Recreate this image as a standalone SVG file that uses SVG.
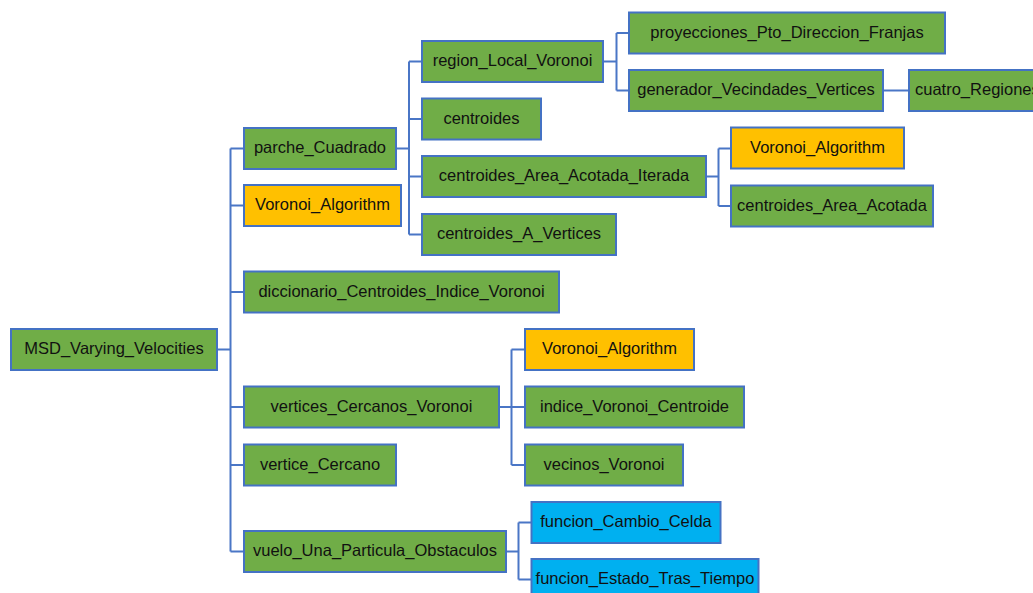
<svg xmlns="http://www.w3.org/2000/svg" width="1033" height="593" viewBox="0 0 1033 593">
<style>
.n rect{stroke:#4472C4;stroke-width:2}
.g rect{fill:#70AD47}
.o rect{fill:#FFC000}
.b rect{fill:#00B0F0}
.n text{font-family:"Liberation Sans",Arial,sans-serif;font-size:16.5px;fill:#111;text-anchor:middle}
#connectors path{fill:none;stroke:#4A76C6;stroke-width:2}
</style>
<rect width="1033" height="593" fill="#fff"/>
<g id="connectors">
<path d="M217,349.5H230.5M230.5,148.5V551.5M230.5,148.5H244M230.5,205.5H244M230.5,292H244M230.5,407H244M230.5,465H244M230.5,551.5H244"/>
<path d="M396,148.5H409M409,61.5V234.5M409,61.5H422M409,119H422M409,176.5H422M409,234.5H422"/>
<path d="M603,61.5H616.5M616.5,33V90.5M616.5,33H629M616.5,90.5H629"/>
<path d="M883,90.5H909"/>
<path d="M706,176.5H718.5M718.5,148.5V206M718.5,148.5H731M718.5,206H731"/>
<path d="M499,407H511.5M511.5,349.5V465M511.5,349.5H525M511.5,407H525M511.5,465H525"/>
<path d="M506,551.5H518.5M518.5,522.5V579.5M518.5,522.5H531.5M518.5,579.5H531.5"/>
</g>
<g id="n_msd" class="n g"><rect x="11" y="329" width="206" height="41"/><text x="114" y="354">MSD_Varying_Velocities</text></g>
<g id="n_parche" class="n g"><rect x="244" y="128" width="152" height="41"/><text x="320" y="153">parche_Cuadrado</text></g>
<g id="n_voronoi1" class="n o"><rect x="244" y="185" width="157" height="41"/><text x="322.5" y="210">Voronoi_Algorithm</text></g>
<g id="n_diccionario" class="n g"><rect x="244" y="271.5" width="315" height="41"/><text x="401.5" y="296.5">diccionario_Centroides_Indice_Voronoi</text></g>
<g id="n_verticesCercanos" class="n g"><rect x="244" y="386.5" width="255" height="41"/><text x="371.5" y="411.5">vertices_Cercanos_Voronoi</text></g>
<g id="n_verticeCercano" class="n g"><rect x="244" y="444.5" width="152" height="41"/><text x="320" y="469.5">vertice_Cercano</text></g>
<g id="n_vuelo" class="n g"><rect x="244" y="531" width="262" height="41"/><text x="375" y="556">vuelo_Una_Particula_Obstaculos</text></g>
<g id="n_region" class="n g"><rect x="422" y="41" width="181" height="41"/><text x="512.5" y="66">region_Local_Voronoi</text></g>
<g id="n_centroides" class="n g"><rect x="422" y="98.5" width="119" height="41"/><text x="481.5" y="123.5">centroides</text></g>
<g id="n_cAAI" class="n g"><rect x="422" y="156" width="284" height="41"/><text x="564" y="181">centroides_Area_Acotada_Iterada</text></g>
<g id="n_cAV" class="n g"><rect x="422" y="214" width="194" height="41"/><text x="519" y="239">centroides_A_Vertices</text></g>
<g id="n_proyecciones" class="n g"><rect x="629" y="12.5" width="316" height="41"/><text x="787" y="37.5">proyecciones_Pto_Direccion_Franjas</text></g>
<g id="n_generador" class="n g"><rect x="629" y="70" width="254" height="41"/><text x="756" y="95">generador_Vecindades_Vertices</text></g>
<g id="n_cuatro" class="n g"><rect x="909" y="70" width="140" height="41"/><text x="915" y="95" style="text-anchor:start">cuatro_Regiones</text></g>
<g id="n_voronoi2" class="n o"><rect x="731" y="127.5" width="173" height="41"/><text x="817.5" y="152.5">Voronoi_Algorithm</text></g>
<g id="n_cAA" class="n g"><rect x="731" y="185.5" width="202" height="41"/><text x="832" y="210.5">centroides_Area_Acotada</text></g>
<g id="n_voronoi3" class="n o"><rect x="525" y="329" width="169" height="41"/><text x="609.5" y="354">Voronoi_Algorithm</text></g>
<g id="n_indice" class="n g"><rect x="525" y="386.5" width="219" height="41"/><text x="634.5" y="411.5">indice_Voronoi_Centroide</text></g>
<g id="n_vecinos" class="n g"><rect x="525" y="444.5" width="158" height="41"/><text x="604" y="469.5">vecinos_Voronoi</text></g>
<g id="n_fCC" class="n b"><rect x="531.5" y="502" width="189" height="41"/><text x="626" y="527">funcion_Cambio_Celda</text></g>
<g id="n_fETT" class="n b"><rect x="531.5" y="559" width="227" height="41"/><text x="645" y="584">funcion_Estado_Tras_Tiempo</text></g>
</svg>
